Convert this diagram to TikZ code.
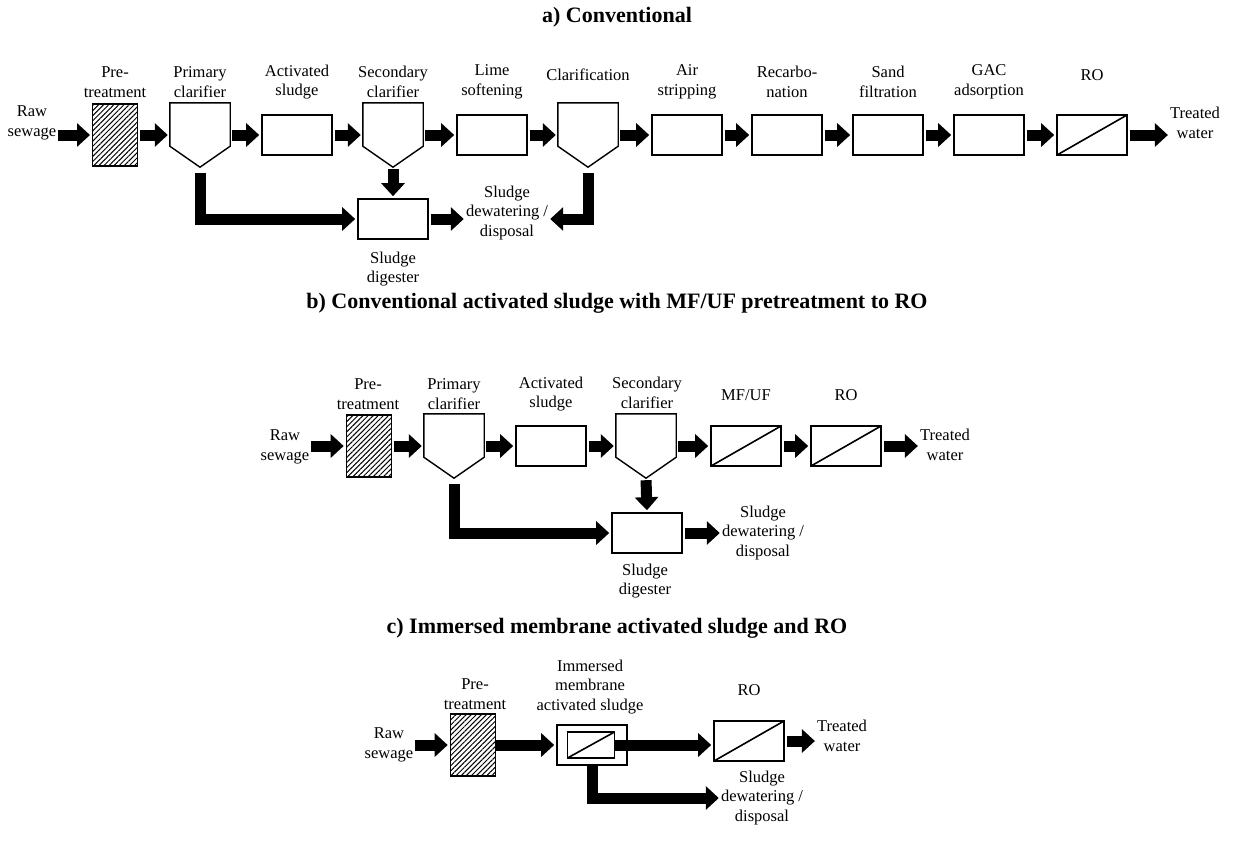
\documentclass[tikz,border=0pt]{standalone}
\usepackage{fontspec}
\setmainfont{Liberation Serif}
\usetikzlibrary{arrows.meta,patterns.meta}
\newcommand\clarshape[1]{\draw[clarline] (#1.north west) -- (#1.north east) -- ([yshift=21pt]#1.south east) -- (#1.south) -- ([yshift=21pt]#1.south west) -- cycle;}
\begin{document}
\begin{tikzpicture}[x=1pt,y=-1pt,
 lab/.style={font=\fontsize{16.5}{19.5}\selectfont, align=center, inner sep=0pt},
 ttl/.style={font=\fontsize{22}{26}\selectfont\bfseries, inner sep=0pt},
 box/.style={draw, line width=1.6pt, minimum width=70pt, minimum height=40pt, inner sep=0pt},
 hbox/.style={draw, line width=1.6pt, minimum width=45pt, minimum height=62pt, inner sep=0pt, pattern={Lines[angle=45,distance=3.6pt,line width=1pt]}},
 clar/.style={minimum width=60pt, minimum height=64pt, inner sep=0pt},
 memb/.style={box, path picture={\draw[line width=1.6pt] (path picture bounding box.south west) -- (path picture bounding box.north east);}},
 flow/.style={line width=11pt, -{Triangle[length=13pt,width=23pt]}, shorten <=2pt, shorten >=2pt, line join=miter},
 clarline/.style={line width=1.4pt, line join=miter}
]
\useasboundingbox (0,0) rectangle (1235,855);

% ---------------- a) ----------------
\node[ttl] (ta) at (617,17) {a) Conventional};
\node[lab] (rawa) at (32,123) {Raw\\sewage};
\node[hbox] (prea) at (115,135) {};
\node[lab] at (115,82) {Pre-\\treatment};
\node[clar] (pa) at (200,135) {};
\node[lab] at (200,82) {Primary\\clarifier};
\node[box] (aa) at (297,135) {};
\node[lab] at (297,82) {Activated\\sludge};
\node[clar] (sa) at (393,135) {};
\node[lab] at (393,82) {Secondary\\clarifier};
\node[box] (la) at (492,135) {};
\node[lab] at (492,82) {Lime\\softening};
\node[clar] (ca) at (588,135) {};
\node[lab] at (588,75) {Clarification};
\node[box] (ara) at (687,135) {};
\node[lab] at (687,82) {Air\\stripping};
\node[box] (rca) at (787,135) {};
\node[lab] at (787,82) {Recarbo-\\nation};
\node[box] (sfa) at (888,135) {};
\node[lab] at (888,82) {Sand\\filtration};
\node[box] (gaa) at (989,135) {};
\node[lab] at (989,82) {GAC\\adsorption};
\node[memb] (roa) at (1092,135) {};
\node[lab] at (1092,75) {RO};
\node[lab] (twa) at (1195,123) {Treated\\water};
\node[box] (da) at (393,219) {};
\node[lab] at (393,269) {Sludge\\digester};
\node[lab] (dwa) at (507,213) {Sludge\\dewatering /\\disposal};
\clarshape{pa}\clarshape{sa}\clarshape{ca}

\draw[flow] (prea.west -| rawa.east) -- (prea.west);
\draw[flow] (prea.east) -- (prea.east -| pa.west);
\draw[flow] (pa.east) -- (pa.east -| aa.west);
\draw[flow] (aa.east) -- (aa.east -| sa.west);
\draw[flow] (sa.east) -- (sa.east -| la.west);
\draw[flow] (la.east) -- (la.east -| ca.west);
\draw[flow] (ca.east) -- (ca.east -| ara.west);
\draw[flow] (ara.east) -- (ara.east -| rca.west);
\draw[flow] (rca.east) -- (rca.east -| sfa.west);
\draw[flow] (sfa.east) -- (sfa.east -| gaa.west);
\draw[flow] (gaa.east) -- (gaa.east -| roa.west);
\draw[flow] (roa.east) -- (roa.east -| twa.west);
\draw[flow] (sa.south) -- (da.north);
\draw[flow, shorten <=6pt] (pa.south) |- (da.west);
\draw[flow] (da.east) -- (da.east -| dwa.west);
\draw[flow, shorten <=6pt] (ca.south) |- (da.east -| dwa.east);

% ---------------- b) ----------------
\node[ttl] (tb) at (617,303) {b) Conventional activated sludge with MF/UF pretreatment to RO};
\node[lab] (rawb) at (285,447) {Raw\\sewage};
\node[hbox] (preb) at (369,446) {};
\node[lab] at (368,394) {Pre-\\treatment};
\node[clar] (pb) at (454,446) {};
\node[lab] at (454,394) {Primary\\clarifier};
\node[box] (ab) at (551,446) {};
\node[lab] at (551,394) {Activated\\sludge};
\node[clar] (sb) at (646,446) {};
\node[lab] at (647,393) {Secondary\\clarifier};
\node[memb] (mfb) at (746,446) {};
\node[lab] at (746,395) {MF/UF};
\node[memb] (rob) at (846,446) {};
\node[lab] at (846,395) {RO};
\node[lab] (twb) at (945,445) {Treated\\water};
\node[box] (db) at (647,533) {};
\node[lab] at (645,581) {Sludge\\digester};
\node[lab] (dwb) at (763,533) {Sludge\\dewatering /\\disposal};
\clarshape{pb}\clarshape{sb}

\draw[flow] (preb.west -| rawb.east) -- (preb.west);
\draw[flow] (preb.east) -- (preb.east -| pb.west);
\draw[flow] (pb.east) -- (pb.east -| ab.west);
\draw[flow] (ab.east) -- (ab.east -| sb.west);
\draw[flow] (sb.east) -- (sb.east -| mfb.west);
\draw[flow] (mfb.east) -- (mfb.east -| rob.west);
\draw[flow] (rob.east) -- (rob.east -| twb.west);
\draw[flow] (sb.south) -- (db.north);
\draw[flow, shorten <=6pt] (pb.south) |- (db.west);
\draw[flow] (db.east) -- (db.east -| dwb.west);

% ---------------- c) ----------------
\node[ttl] (tc) at (617,628) {c) Immersed membrane activated sludge and RO};
\node[lab] (rawc) at (389,745) {Raw\\sewage};
\node[hbox] (prec) at (473,745) {};
\node[lab] at (475,694) {Pre-\\treatment};
\node[box] (imc) at (592,745) {};
\node[memb, minimum width=47pt, minimum height=26pt] (inc) at (591,745) {};
\node[lab] at (590,687) {Immersed\\membrane\\activated sludge};
\node[memb] (roc) at (749,741) {};
\node[lab] at (749,690) {RO};
\node[lab] (twc) at (842,736) {Treated\\water};
\node[lab] (dwc) at (762,798) {Sludge\\dewatering /\\disposal};

\draw[flow] (prec.west -| rawc.east) -- (prec.west);
\draw[flow, shorten <=0pt] (prec.east) -- (prec.east -| imc.west);
\draw[flow, shorten <=0pt] (inc.east) -- (inc.east -| roc.west);
\draw[flow] (roc.east) -- (roc.east -| twc.west);
\draw[flow, shorten <=0pt] (imc.south) |- (dwc.west);
\end{tikzpicture}
\end{document}
